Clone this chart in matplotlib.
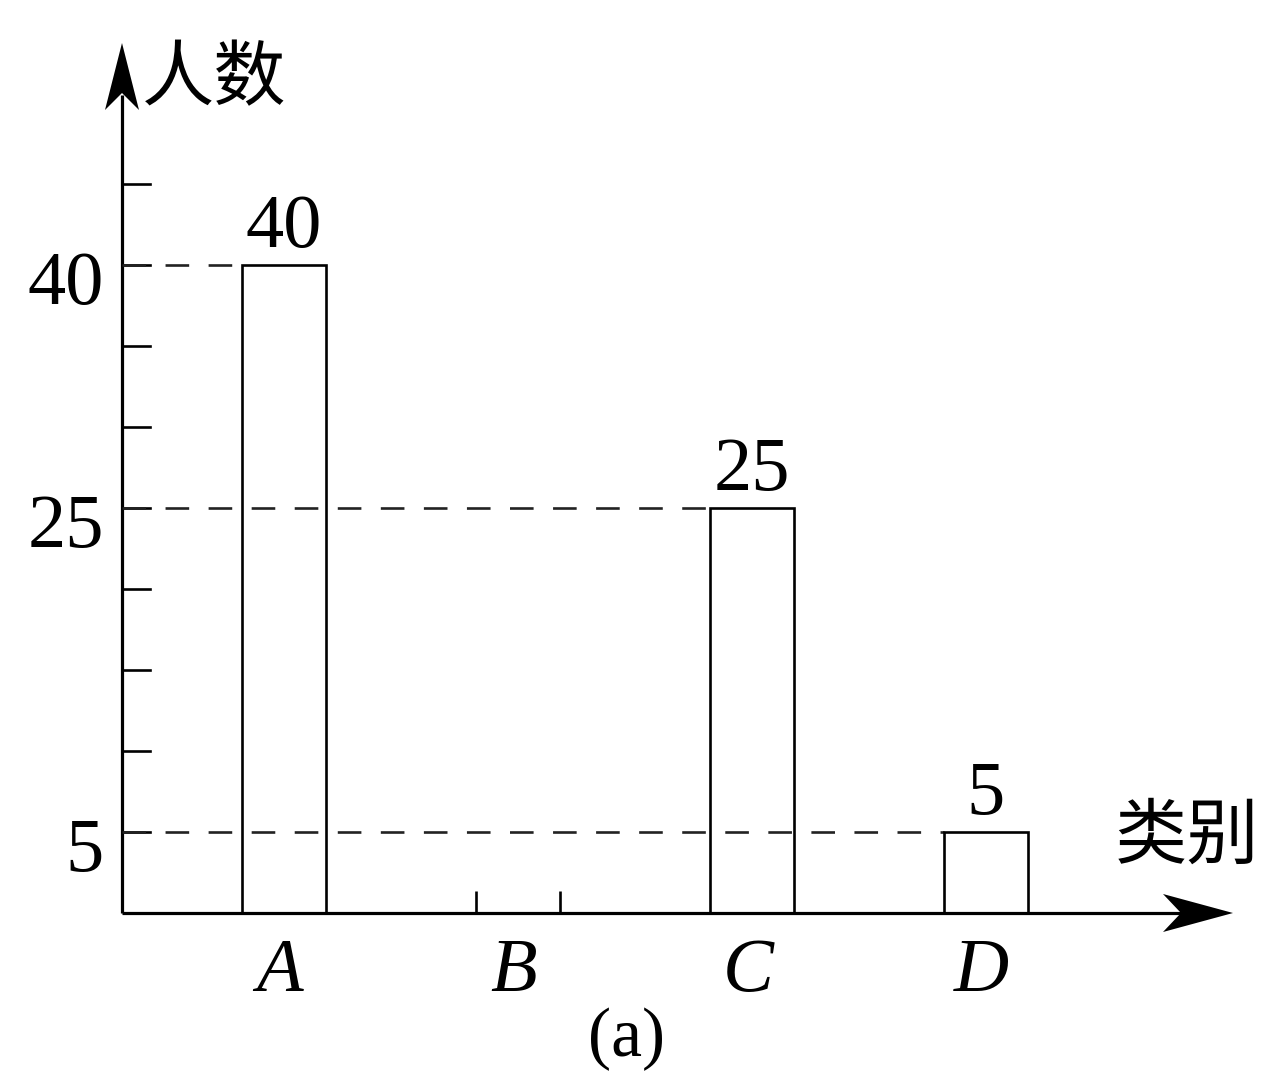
import matplotlib
matplotlib.use("Agg")
import matplotlib.pyplot as plt

# data
categories = ["A", "B", "C", "D"]
counts = [40, None, 25, 5]          # B bar is left blank in the figure
marked_ticks = [5, 25, 40]          # ticks that carry a number
minor_ticks = [5, 10, 15, 20, 25, 30, 35, 40, 45]
y_name = "人数"
x_name = "类别"
caption = "(a)"

plt.rcParams["lines.scale_dashes"] = False
SERIF = "Liberation Serif"
CJK = ["Noto Sans CJK SC", "DejaVu Sans"]

W, H = 1264, 1075
fig = plt.figure(figsize=(W / 100, H / 100), dpi=100)
ax = fig.add_axes([0, 0, 1, 1])
ax.set_axis_off()

# pixel scale of the layout
PX_X = 234.0      # pixels per category step
PX_Y = 16.2       # pixels per person
A_PX = 284        # pixel column of category A
ZERO_PX = 913     # pixel row of y = 0

xmin = -A_PX / PX_X
xmax = xmin + W / PX_X
ymin = -(H - ZERO_PX) / PX_Y
ymax = ymin + H / PX_Y
ax.set_xlim(xmin, xmax)
ax.set_ylim(ymin, ymax)


def px_x(p):
    return xmin + p / PX_X


def px_y(p):
    return (ZERO_PX - p) / PX_Y


axis_x = px_x(122)
x_end = px_x(1233)
y_end = px_y(43)
lw_axis = 2.3
lw_bar = 1.9
bar_w = 0.36

# axes lines
ax.plot([axis_x, px_x(1190)], [0, 0], color="black", lw=lw_axis, solid_capstyle="butt")
ax.plot([axis_x, axis_x], [0, px_y(95)], color="black", lw=lw_axis, solid_capstyle="butt")

# arrow heads (stealth style)
hx = [x_end, x_end - 70 / PX_X, x_end - 52 / PX_X, x_end - 70 / PX_X]
hy = [0, 19 / PX_Y, 0, -19 / PX_Y]
ax.fill(hx, hy, color="black", lw=0)
vx = [axis_x, axis_x - 17 / PX_X, axis_x, axis_x + 17 / PX_X]
vy = [y_end, y_end - 67 / PX_Y, y_end - 50 / PX_Y, y_end - 67 / PX_Y]
ax.fill(vx, vy, color="black", lw=0)

# y ticks
for t in minor_ticks:
    ax.plot([axis_x, axis_x + 28 / PX_X], [t, t], color="black", lw=lw_bar)
for t in marked_ticks:
    ax.text(px_x(104), t - 2.4, str(t), ha="right", va="baseline",
            fontsize=55, family=SERIF)

# bars
for i, (cat, v) in enumerate(zip(categories, counts)):
    left = i - bar_w / 2
    right = i + bar_w / 2
    if v is None:
        ax.vlines([left, right], 0, 22 / PX_Y, color="black", lw=lw_bar)
    else:
        ax.bar(i, v, width=bar_w, facecolor="none", edgecolor="black",
               linewidth=lw_bar, zorder=3)
        ax.plot([axis_x, left], [v, v], color="#222222", lw=lw_bar,
                dashes=(17, 14), zorder=2)
        ax.annotate(str(v), (i, v), xytext=(0, 13), textcoords="offset points",
                    ha="center", va="baseline", fontsize=55, family=SERIF)
    ax.annotate(cat, (i, 0), xytext=(-3, -56), textcoords="offset points",
                ha="center", va="baseline", fontsize=55, family=SERIF,
                style="italic")

# axis names and caption
ax.text(px_x(142), px_y(80), y_name, ha="left", va="center", fontsize=52,
        family=CJK)
ax.text(px_x(1115), px_y(837), x_name, ha="left", va="center", fontsize=52,
        family=CJK)
ax.text(px_x(627), px_y(1008), caption, ha="center", va="top", fontsize=50,
        family=SERIF)

fig.savefig("out.png", dpi=100, facecolor="white")
